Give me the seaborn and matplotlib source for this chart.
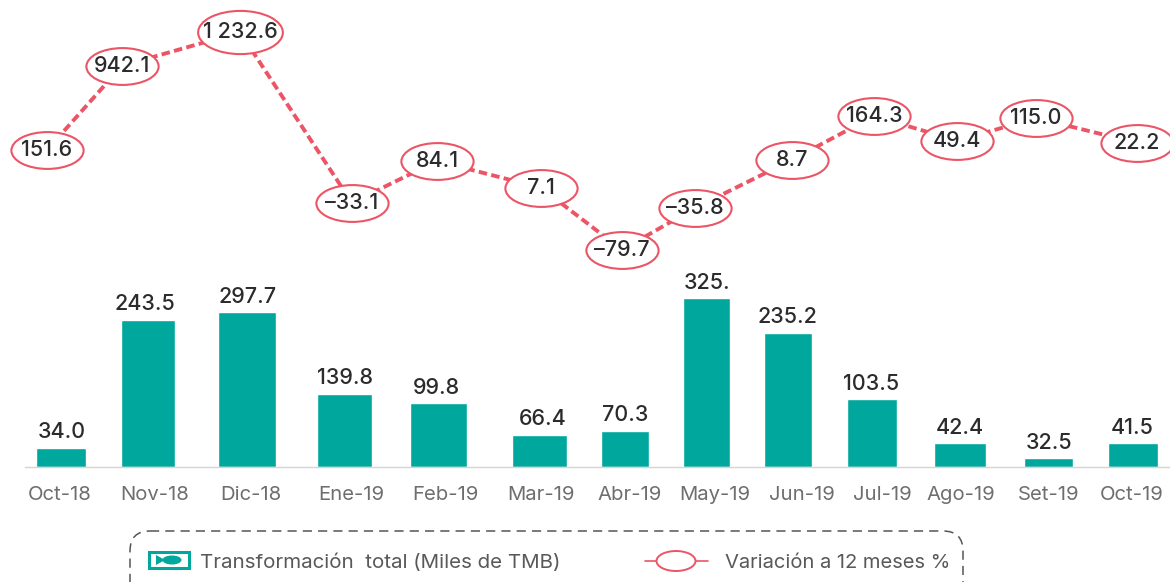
import matplotlib.pyplot as plt
import numpy as np
import pandas as pd
import seaborn as sns
from matplotlib.lines import Line2D
from matplotlib.patches import FancyBboxPatch, Polygon, Ellipse, Rectangle
from matplotlib.path import Path
from matplotlib.transforms import Affine2D

months = ["Oct-18", "Nov-18", "Dic-18", "Ene-19", "Feb-19", "Mar-19", "Abr-19",
          "May-19", "Jun-19", "Jul-19", "Ago-19", "Set-19", "Oct-19"]

# the source is a schematic: printed numbers and drawn sizes do not agree,
# so both are kept
bar_labels = ["34.0", "243.5", "297.7", "139.8", "99.8", "66.4", "70.3",
              "325.", "235.2", "103.5", "42.4", "32.5", "41.5"]
bar_drawn = [37, 285, 299, 142, 123, 62, 70, 326, 260, 131, 46, 17, 46]

variation_labels = ["151.6", "942.1", "1 232.6", "\u201333.1", "84.1", "7.1", "\u201379.7",
                    "\u201335.8", "8.7", "164.3", "49.4", "115.0", "22.2"]
variation_drawn = [613, 776, 841, 511, 592, 540, 420, 501, 594, 679, 631, 675, 627]

# the months are not evenly spaced in the source (pixels across the figure)
bar_centres = [62, 145, 247.5, 345.5, 436.5, 543, 625, 707, 787, 871.5, 960, 1049.5, 1132]
line_centres = [47, 122, 240, 352, 437, 541, 622, 695, 792, 874, 957, 1036, 1137]
tick_centres = [60, 155, 251, 351, 445, 541, 630, 715, 802, 882, 961, 1049, 1132]

TEAL = "#00A79D"
RED = "#EC5565"
DARK = "#2B2B2D"
GREY = "#6D6E70"
W, H = 1170, 582
BASE = 467
PX_PER_UNIT = 0.517

sns.set_theme(style="white")
plt.rcParams["font.family"] = ["Inter", "DejaVu Sans"]


def warp_x(ax, centres):
    idx = np.array([-2] + list(range(len(centres))) + [len(centres) + 1])
    px = np.array([centres[0] - 180] + list(centres) + [centres[-1] + 180])
    forward = lambda v: np.interp(v, idx, px)
    inverse = lambda p: np.interp(p, px, idx)
    ax.set_xscale("function", functions=(forward, inverse))
    ax.set_xlim(inverse(0), inverse(W))
    ax.set_ylim(-(H - BASE) / PX_PER_UNIT, BASE / PX_PER_UNIT)
    ax.minorticks_off()
    return inverse


df = pd.DataFrame({"month": months, "bar": bar_drawn, "line": variation_drawn})

fig = plt.figure(figsize=(W / 100, H / 100), dpi=100)

# bars
ax = fig.add_axes([0, 0, 1, 1])
sns.barplot(data=df, x="month", y="bar", color=TEAL, saturation=1, width=0.58, ax=ax)
inv = warp_x(ax, bar_centres)
ax.bar_label(ax.containers[0], labels=bar_labels, padding=4, fontsize=15.5,
             color=DARK, fontweight="medium")
ax.set_xticks(inv(np.array(tick_centres)), months)
ax.tick_params(axis="x", length=0, pad=14, labelsize=14.6, labelcolor=GREY)
for tick in ax.get_xticklabels():
    tick.set_fontfamily("DejaVu Sans")
ax.set_yticks([])
ax.set_xlabel("")
ax.set_ylabel("")
for side in ["left", "right", "top"]:
    ax.spines[side].set_visible(False)
ax.spines["bottom"].set_position(("data", 0))
ax.spines["bottom"].set_color("#D5D5D5")
ax.spines["bottom"].set_linewidth(1)
ax.spines["bottom"].set_bounds(inv(25), inv(W))

# dashed line with ellipse markers
ax2 = fig.add_axes([0, 0, 1, 1])
ax2.patch.set_visible(False)
ellipse = Path.unit_circle().transformed(Affine2D().scale(1, 0.51))
marker_style = dict(marker=ellipse, markerfacecolor="white", markeredgecolor=RED,
                    markeredgewidth=1.5)
sns.lineplot(data=df, x="month", y="line", sort=False, estimator=None, color=RED,
             linewidth=2.8, linestyle=(0, (2.2, 1.1)), markersize=52, ax=ax2, **marker_style)
warp_x(ax2, line_centres)
ax2.axis("off")
# the peak's ellipse is wider, its number is longer
peak = int(np.argmax(variation_drawn))
ax2.plot([peak], [variation_drawn[peak]], markersize=61, linestyle="none", **marker_style)
for i, (lab, v) in enumerate(zip(variation_labels, variation_drawn)):
    ax2.text(i, v, lab, ha="center", va="center", fontsize=15.5, color=DARK,
             fontweight="medium", zorder=5)

# legend, drawn by hand because the frame runs off the page
lg = fig.add_axes([0, 0, 1, 1])
lg.set_xlim(0, W)
lg.set_ylim(H, 0)
lg.axis("off")
lg.add_patch(FancyBboxPatch((148, 531 + 18), 797, 60, boxstyle="round,pad=18,rounding_size=20",
                            fc="none", ec="#555555", lw=1.1, ls=(0, (6, 4)), clip_on=False))
lg.add_patch(Rectangle((149, 552), 40, 16, fc="white", ec=TEAL, lw=2.2))
lg.add_patch(Ellipse((172, 560), 19, 9, fc=TEAL, ec="none"))
lg.add_patch(Polygon([[156, 555], [156, 565], [165, 560]], fc=TEAL, ec="none"))
lg.text(200, 563, "Transformación  total (Miles de TMB)", fontsize=14.8, color="#58595B",
        va="center", ha="left")
lg.add_line(Line2D([645, 708], [561, 561], color=RED, lw=1.2))
lg.add_patch(Ellipse((676, 561), 39, 20, fc="white", ec=RED, lw=1.4, zorder=3))
lg.text(725, 563, "Variación a 12 meses %", fontsize=14.5, color="#58595B",
        va="center", ha="left")

fig.savefig("out.png", dpi=100)
